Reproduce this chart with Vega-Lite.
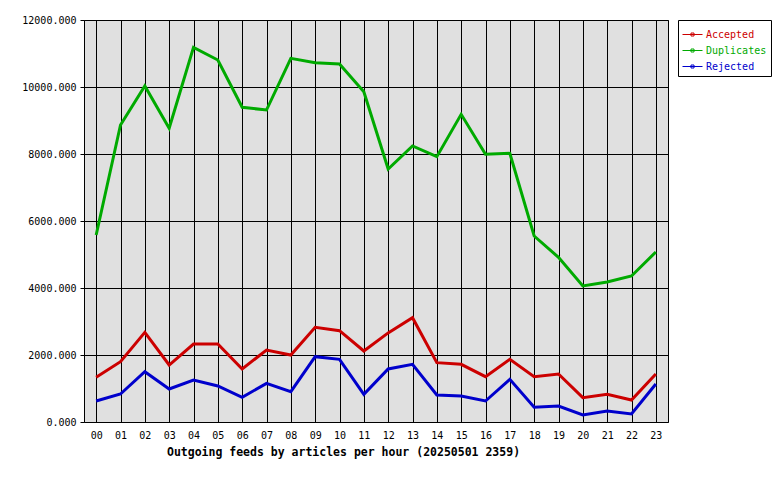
{
  "$schema": "https://vega.github.io/schema/vega-lite/v6.json",
  "width": 584,
  "height": 402,
  "autosize": {"type": "none"},
  "padding": {"left": 84, "top": 20, "right": 112, "bottom": 58},
  "background": "white",
  "config": {
    "font": "DejaVu Sans Mono",
    "view": {"fill": "#e0e0e0", "stroke": "black", "strokeWidth": 1},
    "axis": {"gridColor": "black", "gridOpacity": 1, "gridWidth": 1, "domain": false, "labelFont": "DejaVu Sans Mono", "labelFontSize": 10, "labelColor": "black", "tickColor": "black"}
  },
  "data": {"values": [
    {"hour":"00","series":"Accepted","value":1333},{"hour":"01","series":"Accepted","value":1801},{"hour":"02","series":"Accepted","value":2676},{"hour":"03","series":"Accepted","value":1701},{"hour":"04","series":"Accepted","value":2328},{"hour":"05","series":"Accepted","value":2328},{"hour":"06","series":"Accepted","value":1582},{"hour":"07","series":"Accepted","value":2149},{"hour":"08","series":"Accepted","value":2000},{"hour":"09","series":"Accepted","value":2826},{"hour":"10","series":"Accepted","value":2726},{"hour":"11","series":"Accepted","value":2119},{"hour":"12","series":"Accepted","value":2660},{"hour":"13","series":"Accepted","value":3114},{"hour":"14","series":"Accepted","value":1771},{"hour":"15","series":"Accepted","value":1721},{"hour":"16","series":"Accepted","value":1353},{"hour":"17","series":"Accepted","value":1870},{"hour":"18","series":"Accepted","value":1353},{"hour":"19","series":"Accepted","value":1433},{"hour":"20","series":"Accepted","value":726},{"hour":"21","series":"Accepted","value":826},{"hour":"22","series":"Accepted","value":657},{"hour":"23","series":"Accepted","value":1433},
    {"hour":"00","series":"Duplicates","value":5582},{"hour":"01","series":"Duplicates","value":8866},{"hour":"02","series":"Duplicates","value":10030},{"hour":"03","series":"Duplicates","value":8767},{"hour":"04","series":"Duplicates","value":11185},{"hour":"05","series":"Duplicates","value":10806},{"hour":"06","series":"Duplicates","value":9394},{"hour":"07","series":"Duplicates","value":9313},{"hour":"08","series":"Duplicates","value":10856},{"hour":"09","series":"Duplicates","value":10725},{"hour":"10","series":"Duplicates","value":10686},{"hour":"11","series":"Duplicates","value":9860},{"hour":"12","series":"Duplicates","value":7552},{"hour":"13","series":"Duplicates","value":8239},{"hour":"14","series":"Duplicates","value":7920},{"hour":"15","series":"Duplicates","value":9184},{"hour":"16","series":"Duplicates","value":7990},{"hour":"17","series":"Duplicates","value":8020},{"hour":"18","series":"Duplicates","value":5552},{"hour":"19","series":"Duplicates","value":4916},{"hour":"20","series":"Duplicates","value":4060},{"hour":"21","series":"Duplicates","value":4179},{"hour":"22","series":"Duplicates","value":4358},{"hour":"23","series":"Duplicates","value":5075},
    {"hour":"00","series":"Rejected","value":627},{"hour":"01","series":"Rejected","value":836},{"hour":"02","series":"Rejected","value":1502},{"hour":"03","series":"Rejected","value":985},{"hour":"04","series":"Rejected","value":1254},{"hour":"05","series":"Rejected","value":1075},{"hour":"06","series":"Rejected","value":736},{"hour":"07","series":"Rejected","value":1154},{"hour":"08","series":"Rejected","value":905},{"hour":"09","series":"Rejected","value":1950},{"hour":"10","series":"Rejected","value":1871},{"hour":"11","series":"Rejected","value":826},{"hour":"12","series":"Rejected","value":1582},{"hour":"13","series":"Rejected","value":1721},{"hour":"14","series":"Rejected","value":806},{"hour":"15","series":"Rejected","value":776},{"hour":"16","series":"Rejected","value":627},{"hour":"17","series":"Rejected","value":1274},{"hour":"18","series":"Rejected","value":438},{"hour":"19","series":"Rejected","value":478},{"hour":"20","series":"Rejected","value":209},{"hour":"21","series":"Rejected","value":328},{"hour":"22","series":"Rejected","value":239},{"hour":"23","series":"Rejected","value":1134}
  ]},
  "mark": {"type": "line", "strokeWidth": 3, "strokeJoin": "miter", "interpolate": "linear"},
  "encoding": {
    "x": {
      "field": "hour", "type": "ordinal",
      "scale": {"type": "point", "padding": 0.5},
      "axis": {
        "title": "Outgoing feeds by articles per hour (20250501 2359)",
        "titleFont": "DejaVu Sans Mono", "titleFontSize": 11.5, "titleFontWeight": "bold", "titleColor": "black",
        "titleX": 259, "titleY": 30, "titleAlign": "center", "titleBaseline": "middle", "titleAnchor": "start",
        "labelAngle": 0, "ticks": false, "labelPadding": 8, "grid": true
      }
    },
    "y": {
      "field": "value", "type": "quantitative",
      "scale": {"domain": [0, 12000], "nice": false, "zero": true},
      "axis": {"title": null, "values": [0, 2000, 4000, 6000, 8000, 10000, 12000], "format": ".3f", "tickSize": 4, "labelPadding": 4, "grid": true}
    },
    "color": {
      "field": "series", "type": "nominal",
      "scale": {"domain": ["Accepted", "Duplicates", "Rejected"], "range": ["#cc0000", "#00aa00", "#0000cc"]},
      "legend": {
        "title": null, "orient": "none", "legendX": 594, "legendY": 0,
        "strokeColor": "black", "fillColor": "white", "padding": 4,
        "symbolType": "M-1,0H1M-0.15,-0.15H0.15V0.15H-0.15Z",
        "symbolSize": 400, "symbolStrokeWidth": 1, "symbolFillColor": "transparent",
        "labelFont": "DejaVu Sans Mono", "labelFontSize": 10, "labelOffset": 3, "rowPadding": -6,
        "encode": {"labels": {"update": {"fill": {"scale": "color", "field": "value"}}}}
      }
    }
  }
}
